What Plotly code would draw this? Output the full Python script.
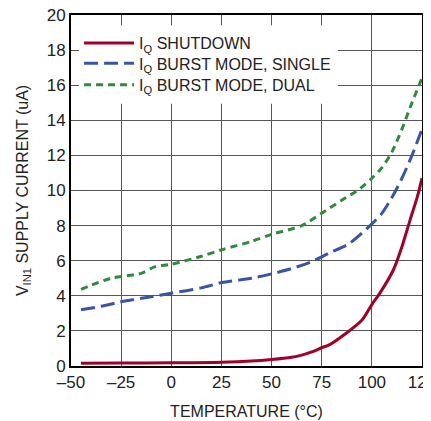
import plotly.graph_objects as go

temp_shutdown = [-45, -25, 0, 25, 40, 50, 60, 65, 70, 75, 79, 87, 95, 100, 104, 110.7, 115, 119, 122.7, 125]
iq_shutdown = [0.15, 0.17, 0.18, 0.21, 0.28, 0.37, 0.5, 0.62, 0.8, 1.04, 1.22, 1.85, 2.6, 3.5, 4.15, 5.47, 6.8, 8.3, 9.65, 10.7]

temp_single = [-45, -35, -25, -10, 0, 15, 25, 40, 50, 60, 70, 79, 89, 100, 105, 110, 115, 120, 125]
iq_single = [3.2, 3.4, 3.66, 3.95, 4.15, 4.45, 4.75, 5.0, 5.25, 5.55, 5.95, 6.45, 7.0, 8.1, 8.7, 9.6, 10.7, 12.0, 13.5]

temp_dual = [-45, -40, -30, -15, -8, 0, 15, 25, 40, 50, 65, 75, 85, 94, 100, 105, 110, 115, 120, 125]
iq_dual = [4.37, 4.6, 5.0, 5.28, 5.66, 5.8, 6.25, 6.62, 7.1, 7.5, 8.0, 8.7, 9.45, 10.1, 10.7, 11.3, 12.2, 13.5, 15.0, 16.4]

x_ticks = [-50, -25, 0, 25, 50, 75, 100, 125]
y_ticks = [0, 2, 4, 6, 8, 10, 12, 14, 16, 18, 20]

# legend background box extent (data units)
legend_box_x = [-46, 83.1]
legend_box_y = [14.95, 19.42]

FONT = "Liberation Sans Narrow, Arial Narrow, Liberation Sans, Arial, sans-serif"
TXT = "#222222"

fig = go.Figure()
# white backing for the legend, covers the gridlines behind it
bx0, bx1 = legend_box_x
by0, by1 = legend_box_y
fig.add_trace(go.Scatter(x=[bx0, bx1, bx1, bx0, bx0], y=[by0, by0, by1, by1, by0], mode="lines",
                         fill="toself", fillcolor="white", line=dict(width=0, color="white"),
                         showlegend=False, hoverinfo="skip"))
fig.add_trace(go.Scatter(x=temp_shutdown, y=iq_shutdown, mode="lines", name="I<sub>Q</sub> SHUTDOWN",
                         legend="legend",
                         line=dict(color="#A0002A", width=3, shape="spline", smoothing=0.8)))
fig.add_trace(go.Scatter(x=temp_single, y=iq_single, mode="lines", name="I<sub>Q</sub> BURST MODE, SINGLE",
                         legend="legend2",
                         line=dict(color="#3A55A8", width=3, dash="14px,6px", shape="spline", smoothing=0.8)))
fig.add_trace(go.Scatter(x=temp_dual, y=iq_dual, mode="lines", name="I<sub>Q</sub> BURST MODE, DUAL",
                         legend="legend3",
                         line=dict(color="#2E8A3E", width=3, dash="7px,5px", shape="spline", smoothing=0.8)))

axis_common = dict(showline=True, linecolor="black", linewidth=2, mirror=True,
                   showgrid=True, gridcolor="#555555", gridwidth=1, zeroline=False,
                   ticks="", ticklabeloverflow="allow", automargin=False,
                   tickfont=dict(family=FONT, size=17, color=TXT))

fig.update_xaxes(range=[-50, 125], tickvals=x_ticks,
                 ticktext=[("–" + str(-v)) if v < 0 else str(v) for v in x_ticks],
                 title=dict(text="TEMPERATURE (°C)", font=dict(family=FONT, size=16, color=TXT), standoff=14),
                 **axis_common)
fig.update_yaxes(range=[0, 20], tickvals=y_ticks,
                 title=dict(text="V<sub>IN1</sub> SUPPLY CURRENT (uA)", font=dict(family=FONT, size=16, color=TXT), standoff=14),
                 **axis_common)

leg = dict(xanchor="left", yanchor="middle", bgcolor="rgba(0,0,0,0)",
           font=dict(family=FONT, size=16, color=TXT), itemwidth=50, borderwidth=0)

fig.update_layout(
    width=423, height=413,
    margin=dict(l=63, r=9, t=7, b=55),
    plot_bgcolor="white", paper_bgcolor="white",
    showlegend=True,
    legend=dict(x=0.023, y=0.920, **leg),
    legend2=dict(x=0.023, y=0.862, **leg),
    legend3=dict(x=0.023, y=0.801, **leg),
)

fig.write_html("out.html")
